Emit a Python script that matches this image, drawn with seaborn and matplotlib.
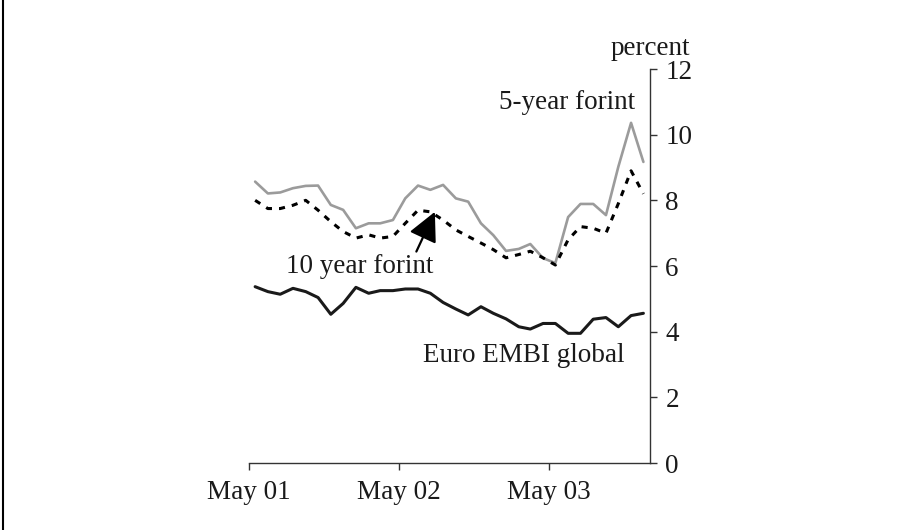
import pandas as pd
import numpy as np
import matplotlib as mpl
import matplotlib.pyplot as plt
from matplotlib.lines import Line2D
import seaborn as sns

# dados mensais, maio 2001 - dezembro 2003 (meio do mes)
datas = pd.date_range('2001-05-01', periods=32, freq='MS') + pd.Timedelta(days=15)

forint_5y = [8.57, 8.21, 8.24, 8.37, 8.44, 8.45, 7.86, 7.71, 7.15, 7.30, 7.30, 7.40,
             8.06, 8.45, 8.32, 8.47, 8.06, 7.96, 7.30, 6.94, 6.46, 6.52, 6.67, 6.24,
             6.09, 7.49, 7.89, 7.89, 7.55, 9.02, 10.36, 9.17]

forint_10y = [8.00, 7.75, 7.75, 7.85, 8.00, 7.70, 7.35, 7.05, 6.85, 6.95, 6.85, 6.90,
              7.30, 7.70, 7.65, 7.40, 7.10, 6.90, 6.70, 6.50, 6.25, 6.35, 6.45, 6.25,
              6.03, 6.80, 7.20, 7.15, 7.00, 7.90, 8.90, 8.20]

euro_embi = [5.37, 5.22, 5.14, 5.32, 5.22, 5.04, 4.53, 4.86, 5.35, 5.17, 5.25, 5.25,
             5.30, 5.30, 5.17, 4.89, 4.69, 4.51, 4.76, 4.56, 4.39, 4.15, 4.08, 4.25,
             4.25, 3.95, 3.95, 4.38, 4.43, 4.15, 4.49, 4.56]

xticks = pd.to_datetime(['2001-05-01', '2002-05-01', '2003-05-01'])
xtick_labels = ['May 01', 'May 02', 'May 03']
yticks = [0, 2, 4, 6, 8, 10, 12]

df = pd.DataFrame({'data': datas, 'f5': forint_5y, 'f10': forint_10y, 'embi': euro_embi})

sns.set_style('white')
plt.rcParams['font.family'] = ['Liberation Serif', 'DejaVu Serif']

fig = plt.figure(figsize=(9.04, 5.30), dpi=100)
ax = fig.add_axes([0.2754, 0.1264, 0.4436, 0.7434])

sns.lineplot(x='data', y='f5', data=df, ax=ax, color='#9b9b9b', linewidth=1.9)
sns.lineplot(x='data', y='f10', data=df, ax=ax, color='black', linewidth=2.2,
             linestyle=(0, (2.0, 2.3)))
sns.lineplot(x='data', y='embi', data=df, ax=ax, color='#1a1a1a', linewidth=2.2)

ax.set_xlim(pd.Timestamp('2001-05-01'), pd.Timestamp('2004-01-01'))
ax.set_ylim(0, 12)
ax.set_xticks(xticks)
ax.set_xticklabels(xtick_labels)
ax.set_yticks(yticks)
ax.set_xlabel('')
ax.set_ylabel('')

ax.yaxis.tick_right()
for s in ['left', 'top']:
    ax.spines[s].set_visible(False)
for s in ['right', 'bottom']:
    ax.spines[s].set_color('#333333')
    ax.spines[s].set_linewidth(1.0)
ax.tick_params(axis='both', direction='out', length=5, width=1.0, color='#333333',
               labelsize=19.5, labelcolor='#1a1a1a')
ax.tick_params(axis='x', bottom=True, pad=7)
ax.tick_params(axis='y', right=True, left=False, pad=6)

ax.text(1.0, 1.053, 'percent', transform=ax.transAxes, ha='center', va='center',
        fontsize=19.5, color='#1a1a1a')
ax.text(pd.Timestamp('2003-06-13'), 10.97, '5-year forint', ha='center', va='center',
        fontsize=19.5, color='#1a1a1a')
ax.text(pd.Timestamp('2003-02-28'), 3.26, 'Euro EMBI global', ha='center', va='center',
        fontsize=19.5, color='#1a1a1a')
ax.text(pd.Timestamp('2002-01-24'), 6.0, '10 year forint', ha='center', va='center',
        fontsize=19.5, color='#1a1a1a')
ax.annotate('', xy=(pd.Timestamp('2002-07-27'), 7.65), xytext=(pd.Timestamp('2002-06-12'), 6.44),
            arrowprops=dict(arrowstyle='-|>,head_length=0.9,head_width=0.45',
                            color='black', lw=1.6, shrinkA=0, shrinkB=0, mutation_scale=20))

# linha da borda esquerda
fig.add_artist(Line2D([0.003, 0.003], [0, 1], transform=fig.transFigure, color='black', lw=1.5))

plt.savefig('out.png', dpi=100)
